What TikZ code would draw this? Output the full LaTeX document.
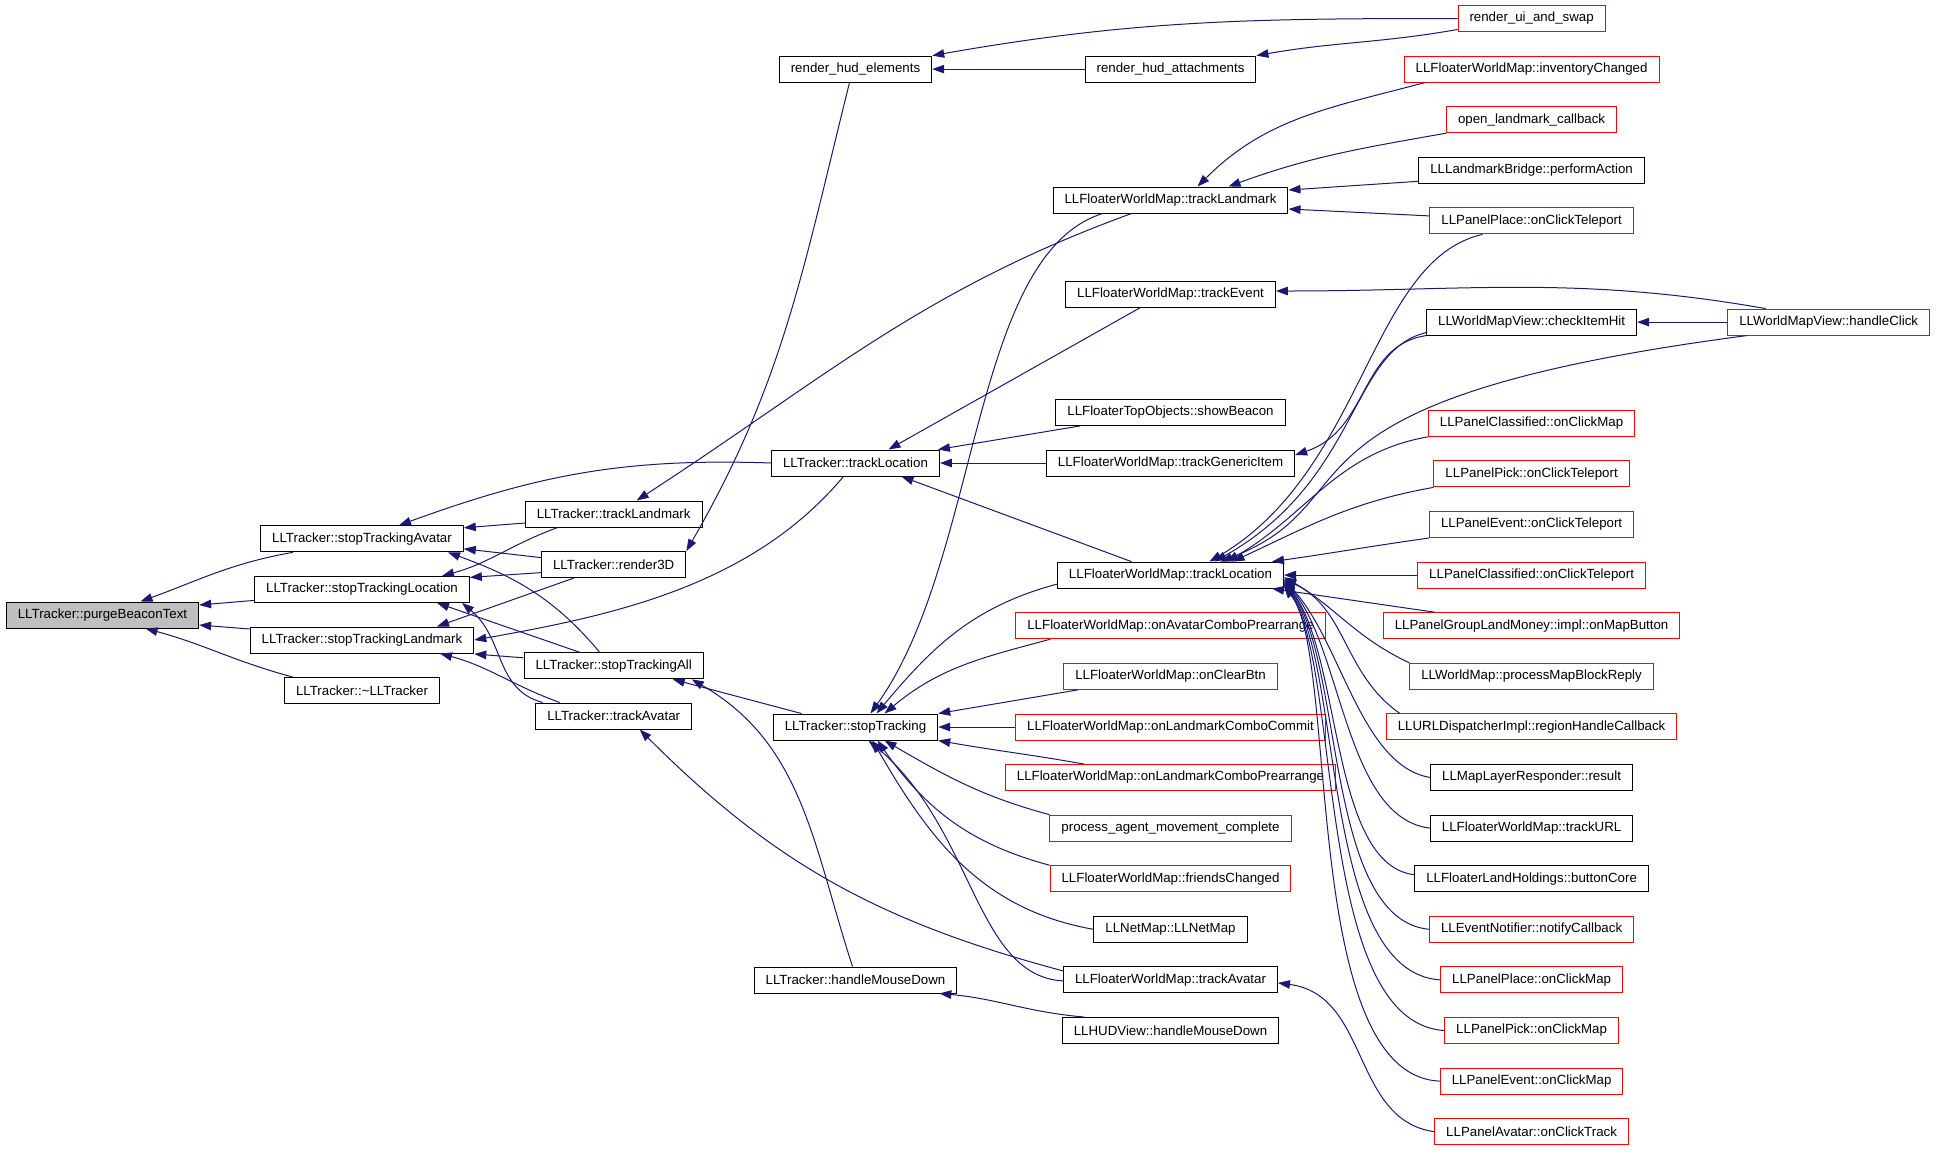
\documentclass[tikz,border=0pt]{standalone}
\usepackage{fontspec}
\setmainfont{Liberation Sans}
\usepackage{tikz}
\usetikzlibrary{arrows.meta}
\definecolor{callblue}{RGB}{25,25,112}
\definecolor{rootgray}{RGB}{191,191,191}

\begin{document}
\begin{tikzpicture}[x=1pt, y=1pt,
    fn/.style={draw=black, line width=1pt, minimum height=26pt, inner xsep=11.5pt, inner ysep=0pt, font=\fontsize{13.3}{16}\selectfont},
    fnred/.style={fn, draw=red},
    fnroot/.style={fn, fill=rootgray},
    call/.style={draw=callblue, line width=1pt, -{Triangle[length=12pt,width=8.5pt]}}]
	\path[use as bounding box, fill=white] (0,0) rectangle (1936,-1152);

	% column 0 and 1
	\node[fnroot] (purge) at (102.5,-615) {LLTracker::purgeBeaconText};
	\node[fn] (stopAvatar) at (362,-538.8) {LLTracker::stopTrackingAvatar};
	\node[fn] (stopLocation) at (362,-589.4) {LLTracker::stopTrackingLocation};
	\node[fn] (stopLandmark) at (362,-640) {LLTracker::stopTrackingLandmark};
	\node[fn] (dtor) at (362,-690.6) {LLTracker::\textasciitilde LLTracker};

	% column 2
	\node[fn] (trkLandmark) at (613.7,-514) {LLTracker::trackLandmark};
	\node[fn] (render3D) at (613.7,-564.6) {LLTracker::render3D};
	\node[fn] (stopAll) at (613.7,-665.8) {LLTracker::stopTrackingAll};
	\node[fn] (trkAvatar) at (613.7,-716) {LLTracker::trackAvatar};

	% column 3
	\node[fn] (hudElems) at (855.5,-69.1) {render\_hud\_elements};
	\node[fn] (trkLocation) at (855.5,-463) {LLTracker::trackLocation};
	\node[fn] (stopTrk) at (855.5,-727) {LLTracker::stopTracking};
	\node[fn] (mouseDown) at (855.5,-980) {LLTracker::handleMouseDown};

	% column 4
	\node[fn] (hudAttach) at (1170.5,-69.1) {render\_hud\_attachments};
	\node[fn] (fwmLandmark) at (1170.5,-200) {LLFloaterWorldMap::trackLandmark};
	\node[fn] (fwmEvent) at (1170.5,-294) {LLFloaterWorldMap::trackEvent};
	\node[fn] (topBeacon) at (1170.5,-412.4) {LLFloaterTopObjects::showBeacon};
	\node[fn] (fwmGeneric) at (1170.5,-463) {LLFloaterWorldMap::trackGenericItem};
	\node[fn] (fwmLocation) at (1170.5,-575.1) {LLFloaterWorldMap::trackLocation};
	\node[fnred] (fwmAvatarCombo) at (1170.5,-625.7) {LLFloaterWorldMap::onAvatarComboPrearrange};
	\node[fnred] (fwmClearBtn) at (1170.5,-676.3) {LLFloaterWorldMap::onClearBtn};
	\node[fnred] (fwmLmCommit) at (1170.5,-727) {LLFloaterWorldMap::onLandmarkComboCommit};
	\node[fnred] (fwmLmPrearrange) at (1170.5,-777.5) {LLFloaterWorldMap::onLandmarkComboPrearrange};
	\node[fnred] (agentMove) at (1170.5,-828.1) {process\_agent\_movement\_complete};
	\node[fnred] (fwmFriends) at (1170.5,-878.7) {LLFloaterWorldMap::friendsChanged};
	\node[fn] (netMap) at (1170.5,-929.3) {LLNetMap::LLNetMap};
	\node[fn] (fwmAvatar) at (1170.5,-979.9) {LLFloaterWorldMap::trackAvatar};
	\node[fn] (hudMouse) at (1170.5,-1030.5) {LLHUDView::handleMouseDown};

	% column 5
	\node[fnred] (uiSwap) at (1531.6,-18.5) {render\_ui\_and\_swap};
	\node[fnred] (fwmInventory) at (1531.6,-69.1) {LLFloaterWorldMap::inventoryChanged};
	\node[fnred] (lmCallback) at (1531.6,-119.7) {open\_landmark\_callback};
	\node[fn] (lmBridge) at (1531.6,-170.3) {LLLandmarkBridge::performAction};
	\node[fnred] (placeTeleport) at (1531.6,-220.9) {LLPanelPlace::onClickTeleport};
	\node[fn] (checkHit) at (1531.6,-322.1) {LLWorldMapView::checkItemHit};
	\node[fnred] (classMap) at (1531.6,-423.3) {LLPanelClassified::onClickMap};
	\node[fnred] (pickTeleport) at (1531.6,-473.9) {LLPanelPick::onClickTeleport};
	\node[fnred] (eventTeleport) at (1531.6,-524.5) {LLPanelEvent::onClickTeleport};
	\node[fnred] (classTeleport) at (1531.6,-575.1) {LLPanelClassified::onClickTeleport};
	\node[fnred] (groupMap) at (1531.6,-625.7) {LLPanelGroupLandMoney::impl::onMapButton};
	\node[fnred] (mapBlock) at (1531.6,-676.3) {LLWorldMap::processMapBlockReply};
	\node[fnred] (regionCb) at (1531.6,-726.9) {LLURLDispatcherImpl::regionHandleCallback};
	\node[fn] (layerResult) at (1531.6,-777.5) {LLMapLayerResponder::result};
	\node[fn] (fwmURL) at (1531.6,-828.1) {LLFloaterWorldMap::trackURL};
	\node[fn] (landCore) at (1531.6,-878.7) {LLFloaterLandHoldings::buttonCore};
	\node[fnred] (eventNotify) at (1531.6,-929.3) {LLEventNotifier::notifyCallback};
	\node[fnred] (placeMap) at (1531.6,-979.9) {LLPanelPlace::onClickMap};
	\node[fnred] (pickMap) at (1531.6,-1030.5) {LLPanelPick::onClickMap};
	\node[fnred] (eventMap) at (1531.6,-1081.1) {LLPanelEvent::onClickMap};
	\node[fnred] (avatarTrack) at (1531.6,-1131.7) {LLPanelAvatar::onClickTrack};

	% column 6
	\node[fnred] (mapClick) at (1828.7,-322.1) {LLWorldMapView::handleClick};

	% callers of purgeBeaconText
	\draw[call] ([xshift=-69]stopAvatar.south) to[out=190,in=20] ([xshift=38]purge.north);
	\draw[call] ([yshift=-11]stopLocation.west) -- ([yshift=10]purge.east);
	\draw[call] ([yshift=11]stopLandmark.west) -- ([yshift=-10]purge.east);
	\draw[call] ([xshift=-69]dtor.north) to[out=165,in=-15] ([xshift=43]purge.south);

	% callers of stopTrackingAvatar
	\draw[call] ([yshift=-9]trkLandmark.west) -- ([yshift=11]stopAvatar.east);
	\draw[call] ([yshift=7]render3D.west) -- ([yshift=-10]stopAvatar.east);
	\draw[call] ([xshift=-14]stopAll.north) to[out=130,in=-20] ([xshift=86]stopAvatar.south);
	\draw[call] (trkLocation.west) to[out=178,in=20] ([xshift=37]stopAvatar.north);

	% callers of stopTrackingLocation
	\draw[call] ([xshift=-56]trkLandmark.south) to[out=200,in=15] ([xshift=80]stopLocation.north);
	\draw[call] ([yshift=-8]render3D.west) -- ([yshift=12]stopLocation.east);
	\draw[call] ([xshift=-34]stopAll.north) -- ([xshift=75]stopLocation.south);
	\draw[call] ([xshift=-71]trkAvatar.north) .. controls +(-48,13) and +(43,-36) .. ([xshift=100]stopLocation.south);

	% callers of stopTrackingLandmark
	\draw[call] ([xshift=-40]render3D.south) -- ([xshift=75]stopLandmark.north);
	\draw[call] ([xshift=-12]trkLocation.south) to[out=230,in=10,looseness=0.9] (stopLandmark.east);
	\draw[call] ([yshift=8]stopAll.west) -- ([yshift=-14]stopLandmark.east);
	\draw[call] ([xshift=-54]trkAvatar.north) to[out=160,in=-15] ([xshift=78]stopLandmark.south);

	% column 2 callers
	\draw[call] ([xshift=-39]fwmLandmark.south) to[out=200,in=33] ([xshift=23]trkLandmark.north);
	\draw[call] ([xshift=-6]hudElems.south) to[out=256,in=60] (render3D.north east);
	\draw[call] ([xshift=-54]stopTrk.north) -- ([xshift=59]stopAll.south);
	\draw[call] ([xshift=-3]mouseDown.north) to[out=108,in=-30] ([xshift=78]stopAll.south);
	\draw[call] ([yshift=9]fwmAvatar.west) to[out=165,in=-45] ([xshift=26]trkAvatar.south);

	% hud
	\draw[call] (uiSwap.west) to[out=180,in=10] (hudElems.north east);
	\draw[call] (hudAttach.west) -- (hudElems.east);
	\draw[call] ([yshift=-11]uiSwap.west) to[out=190,in=10] (hudAttach.north east);

	% callers of LLTracker::trackLocation
	\draw[call] ([xshift=-30]fwmEvent.south) -- ([xshift=33]trkLocation.north);
	\draw[call] ([xshift=25]topBeacon.south west) -- ([xshift=-2]trkLocation.north east);
	\draw[call] (fwmGeneric.west) -- (trkLocation.east);
	\draw[call] ([xshift=-39]fwmLocation.north) -- ([xshift=46]trkLocation.south);

	% callers of stopTracking
	\draw[call] ([xshift=-68]fwmLandmark.south) .. controls +(-132,-42) and +(110,154) .. ([xshift=15]stopTrk.north);
	\draw[call] ([yshift=-9]fwmLocation.west) to[out=195,in=50] ([xshift=21]stopTrk.north);
	\draw[call] ([xshift=35]fwmAvatarCombo.south west) to[out=195,in=40] ([xshift=29]stopTrk.north);
	\draw[call] ([xshift=15]fwmClearBtn.south west) -- (stopTrk.north east);
	\draw[call] (fwmLmCommit.west) -- (stopTrk.east);
	\draw[call] ([xshift=79]fwmLmPrearrange.north west) to[out=170,in=-10] (stopTrk.south east);
	\draw[call] (agentMove.north west) to[out=165,in=-30] ([xshift=29]stopTrk.south);
	\draw[call] (fwmFriends.north west) to[out=165,in=-55] ([xshift=22]stopTrk.south);
	\draw[call] (netMap.west) to[out=170,in=-60] ([xshift=17]stopTrk.south);
	\draw[call] ([yshift=-1]fwmAvatar.west) .. controls +(-88,5) and +(106,-89) .. ([xshift=13]stopTrk.south);
	\draw[call] ([xshift=22]hudMouse.north west) to[out=175,in=-5] ([xshift=-18]mouseDown.south east);

	% callers of LLFloaterWorldMap::trackLandmark
	\draw[call] ([xshift=21]fwmInventory.south west) to[out=195,in=45] ([xshift=27]fwmLandmark.north);
	\draw[call] (lmCallback.south west) to[out=190,in=20] ([xshift=58]fwmLandmark.north);
	\draw[call] ([yshift=-11]lmBridge.west) -- ([yshift=10]fwmLandmark.east);
	\draw[call] ([yshift=5]placeTeleport.west) -- ([yshift=-9]fwmLandmark.east);

	% handleClick and checkItemHit
	\draw[call] ([xshift=-63]mapClick.north) to[out=170,in=0] ([yshift=3]fwmEvent.east);
	\draw[call] (mapClick.west) -- (checkHit.east);
	\draw[call] (checkHit.south west) .. controls +(-67,-10) and +(75,25) .. ([yshift=8]fwmGeneric.east);

	% callers of LLFloaterWorldMap::trackLocation
	\draw[call] ([yshift=3]checkHit.south west) .. controls +(-76,-18) and +(145,82) .. ([xshift=44]fwmLocation.north);
	\draw[call] ([xshift=-82]mapClick.south) .. controls +(-497,-65) and +(160,62) .. ([xshift=50]fwmLocation.north);
	\draw[call] ([xshift=53]placeTeleport.south west) .. controls +(-113,-26) and +(156,92) .. ([xshift=39]fwmLocation.north);
	\draw[call] (classMap.south west) to[out=190,in=30] ([xshift=56]fwmLocation.north);
	\draw[call] (pickTeleport.south west) to[out=190,in=25] ([xshift=62]fwmLocation.north);
	\draw[call] (eventTeleport.south west) to[out=188,in=8] ([xshift=-12]fwmLocation.north east);
	\draw[call] (classTeleport.west) -- (fwmLocation.east);
	\draw[call] ([xshift=52]groupMap.north west) -- ([xshift=-12]fwmLocation.south east);
	\draw[call] (mapBlock.north west) to[out=155,in=-30] ([yshift=-2]fwmLocation.east);
	\draw[call] ([xshift=14]regionCb.north west) to[out=145,in=-25] ([yshift=-4]fwmLocation.east);
	\draw[call] (layerResult.west) .. controls +(-70,12) and +(57,-60) .. ([yshift=-5]fwmLocation.east);
	\draw[call] (fwmURL.west) .. controls +(-85,10) and +(58,-65) .. ([yshift=-6]fwmLocation.east);
	\draw[call] ([yshift=4]landCore.west) .. controls +(-85,10) and +(58,-70) .. ([yshift=-7]fwmLocation.east);
	\draw[call] (eventNotify.west) .. controls +(-105,10) and +(60,-75) .. ([yshift=-8]fwmLocation.east);
	\draw[call] (placeMap.west) .. controls +(-120,8) and +(60,-80) .. ([yshift=-9]fwmLocation.east);
	\draw[call] (pickMap.west) .. controls +(-130,8) and +(58,-80) .. ([yshift=-10]fwmLocation.east);
	\draw[call] (eventMap.west) .. controls +(-140,6) and +(55,-70) .. ([yshift=-11]fwmLocation.east);

	% caller of LLFloaterWorldMap::trackAvatar
	\draw[call] (avatarTrack.west) .. controls +(-83,12) and +(92,-12) .. ([yshift=-3]fwmAvatar.east);
\end{tikzpicture}
\end{document}
